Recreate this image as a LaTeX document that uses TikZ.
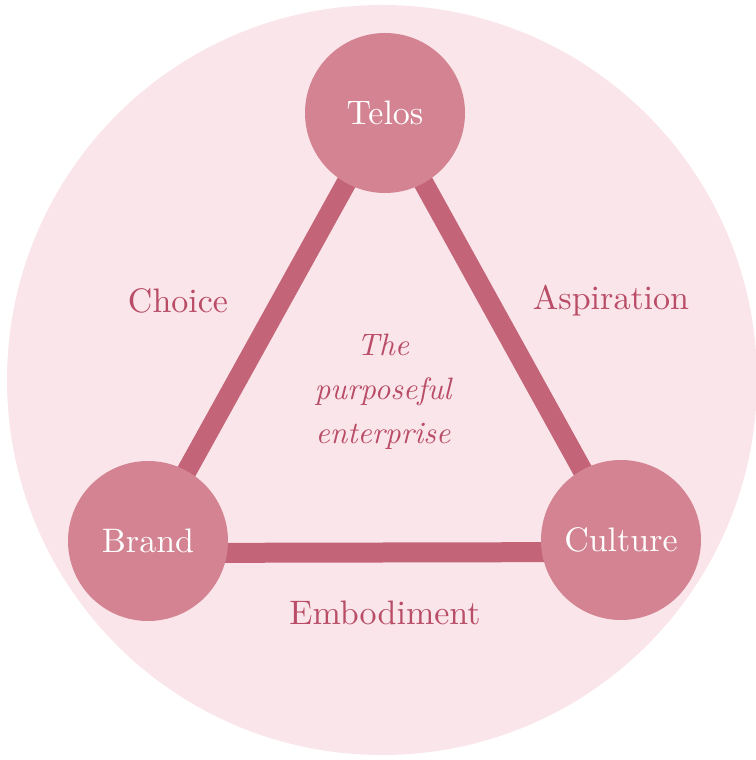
\documentclass[tikz,border=0pt]{standalone}
\usepackage{fontspec}
\setmainfont{lmroman10-regular.otf}[ItalicFont=lmroman10-italic.otf]
\usetikzlibrary{backgrounds}
\definecolor{blush}{HTML}{FAE6EA}
\definecolor{rosenode}{HTML}{D38391}
\definecolor{roseline}{HTML}{C46478}
\definecolor{rosetext}{HTML}{B94C66}
\pgfdeclarelayer{disc}
\pgfsetlayers{disc,background,main}
\begin{document}
\begin{tikzpicture}[x=1pt,y=1pt,
 ball/.style={circle, fill=rosenode, minimum size=160pt, inner sep=0, text=white, font=\fontsize{34}{40}\selectfont},
 tag/.style={text=rosetext, font=\fontsize{34}{40}\selectfont},
 bar/.style={roseline, line width=20pt}]
\useasboundingbox (0,0) rectangle (755,760);
\foreach \n/\x/\y in {Telos/385/647, Brand/148/219, Culture/621/220}
 \node[ball] (\n) at (\x,\y) {\n};
\node[tag] (choice) at (178,459) {Choice};
\node[tag] (aspiration) at (611,459) {Aspiration};
\node[tag] (embodiment) at (385,147) {Embodiment};
\node[tag, font=\itshape\fontsize{31}{44}\selectfont, align=center] (core) at (383,368) {The\\purposeful\\enterprise};
\begin{scope}[on background layer]
 \draw[bar] (Telos.center) -- (Brand.center);
 \draw[bar] (Telos.center) -- (Culture.center);
 \draw[bar] ([yshift=-12pt]Brand.center) -- ([yshift=-12pt]Culture.center);
\end{scope}
\begin{pgfonlayer}{disc}
 \fill[blush] (382,380) circle[radius=375];
\end{pgfonlayer}
\end{tikzpicture}
\end{document}
